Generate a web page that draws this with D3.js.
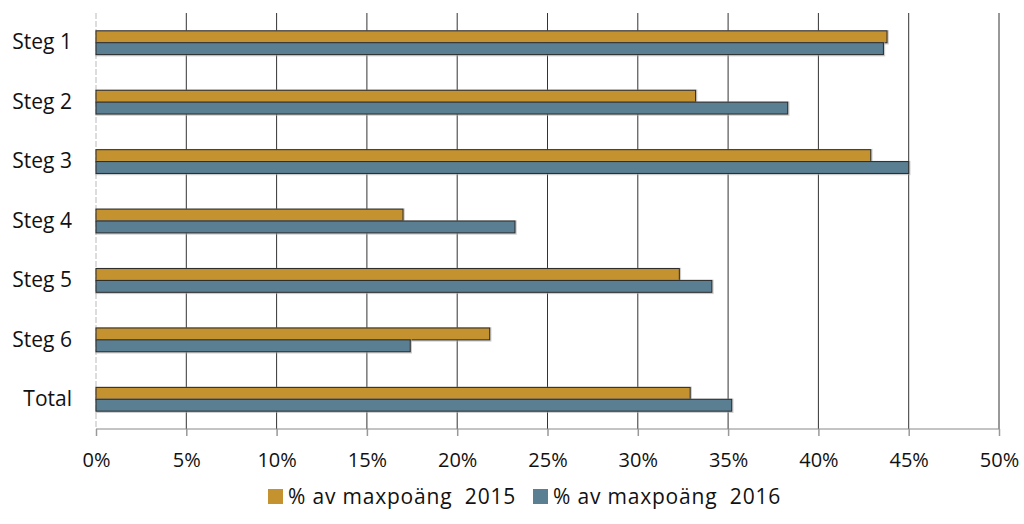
<!DOCTYPE html>
<html>
<head>
<meta charset="utf-8">
<script src="https://cdn.jsdelivr.net/npm/d3@7"></script>
<style>
  body { margin: 0; background: #fff; }
  #chart { width: 1024px; height: 524px; }
  text { font-family: "Open Sans", "Noto Sans", sans-serif; fill: #111; }
</style>
</head>
<body>
<div id="chart"></div>
<script>
//Datos
const categories = ['Steg 1', 'Steg 2', 'Steg 3', 'Steg 4', 'Steg 5', 'Steg 6', 'Total'];
const values2015 = [43.8, 33.2, 42.9, 17.0, 32.3, 21.8, 32.9];
const values2016 = [43.6, 38.3, 45.0, 23.2, 34.1, 17.4, 35.2];
const seriesNames = ['% av maxpoäng  2015', '% av maxpoäng  2016'];
const tickValues = [0, 5, 10, 15, 20, 25, 30, 35, 40, 45, 50];

//Colores
const COLOR_2015 = '#C4922E',
COLOR_2016 = '#5A7F92';

let margin = {top: 13, right: 25, bottom: 95, left: 96},
    width = 1024 - margin.left - margin.right,
    height = 524 - margin.top - margin.bottom;

let svg = d3.select('#chart')
    .append('svg')
        .attr('width', 1024)
        .attr('height', 524)
    .append('g')
        .attr('transform', 'translate(' + margin.left + ',' + margin.top + ')');

// X axis
let x = d3.scaleLinear()
    .domain([0, 50])
    .range([0, width]);

// Gridlines
svg.append('g')
    .selectAll('line')
    .data(tickValues.slice(1))
    .enter()
    .append('line')
    .attr('x1', function(d) { return x(d); })
    .attr('x2', function(d) { return x(d); })
    .attr('y1', 0)
    .attr('y2', height)
    .attr('stroke', '#333')
    .attr('stroke-width', 1);

let xAxis = function(g) {
    g.call(d3.axisBottom(x).tickValues(tickValues).tickSize(7).tickPadding(17).tickFormat(function(d) { return d + '%'; }));
    g.call(function(g) { g.select('.domain').attr('stroke', '#888').attr('d', 'M0,0H' + width); });
    g.call(function(g) { g.selectAll('.tick line').attr('stroke', '#999').attr('stroke-width', 1.5); });
    g.call(function(g) { g.selectAll('.tick text').attr('font-size', '20px').attr('fill', '#111'); });
}

svg.append('g')
    .attr('transform', 'translate(0,' + height + ')')
    .call(xAxis);

// Y axis
let y = d3.scaleBand()
    .range([0, height])
    .domain(categories)
    .paddingInner(0.6)
    .paddingOuter(0.3);

let ySub = d3.scaleBand()
    .domain(['2015', '2016'])
    .range([0, y.bandwidth()]);

let yAxis = function(g) {
    g.call(d3.axisLeft(y).tickSize(0).tickPadding(24));
    g.call(function(g) { g.select('.domain').attr('stroke', '#bbb').attr('stroke-dasharray', '6,2').attr('d', 'M0,0V' + height); });
    g.call(function(g) { g.selectAll('.tick text').attr('font-size', '21px').attr('fill', '#111'); });
}

svg.append('g')
    .call(yAxis);

// Barras
let series = [
    {key: '2015', values: values2015, color: COLOR_2015},
    {key: '2016', values: values2016, color: COLOR_2016}
];

series.forEach(function(s) {
    let rows = categories.map(function(c, i) { return {cat: c, value: s.values[i]}; });

    // sombra suave
    svg.selectAll('.shadow' + s.key)
        .data(rows)
        .enter()
        .append('rect')
        .attr('x', x(0) + 0.5)
        .attr('y', function(d) { return y(d.cat) + ySub(s.key) + 0.5; })
        .attr('width', function(d) { return x(d.value) - x(0); })
        .attr('height', ySub.bandwidth())
        .attr('fill', 'none')
        .attr('stroke', '#aaa')
        .attr('stroke-width', 2.5)
        .attr('opacity', 0.6);

    svg.selectAll('.bar' + s.key)
        .data(rows)
        .enter()
        .append('rect')
        .attr('x', x(0))
        .attr('y', function(d) { return y(d.cat) + ySub(s.key); })
        .attr('width', function(d) { return x(d.value) - x(0); })
        .attr('height', ySub.bandwidth())
        .attr('fill', s.color)
        .attr('stroke', '#2a2a2a')
        .attr('stroke-width', 1);
});

// Leyenda
let legend = d3.select('#chart svg').append('g')
    .attr('transform', 'translate(268,489)');

let legendX = [0, 265];

series.forEach(function(s, i) {
    let item = legend.append('g').attr('transform', 'translate(' + legendX[i] + ',0)');
    item.append('rect')
        .attr('width', 15)
        .attr('height', 15)
        .attr('fill', s.color);
    item.append('text')
        .attr('x', 20)
        .attr('y', 15)
        .attr('font-size', '21px')
        .attr('letter-spacing', '0.8px')
        .style('white-space', 'pre')
        .text(seriesNames[i]);
});
</script>
</body>
</html>
